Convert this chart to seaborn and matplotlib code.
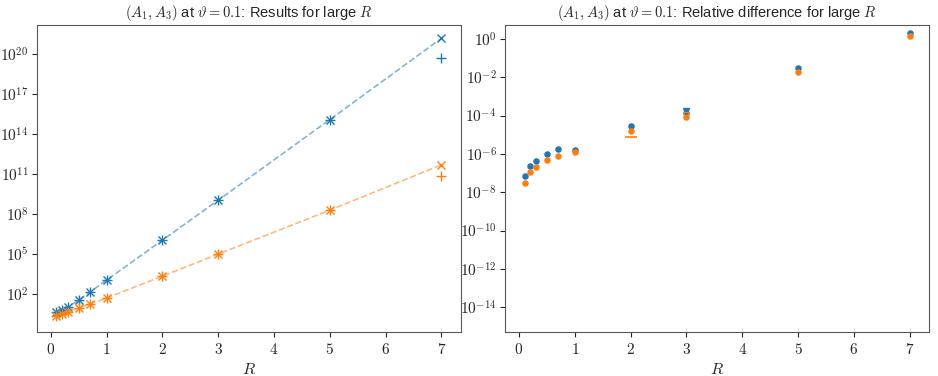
import numpy as np
import pandas as pd
import matplotlib
matplotlib.use("Agg")
import matplotlib.pyplot as plt
from matplotlib.ticker import FuncFormatter
import seaborn as sns

# Data (log10 values)
R = [0.1, 0.2, 0.3, 0.5, 0.7, 1, 2, 3, 5, 7]
blue_x_log = [0.65, 0.8, 1.0, 1.55, 2.15, 3.05, 6.05, 9.05, 15.1, 21.2]
blue_p_log = [0.65, 0.8, 1.0, 1.55, 2.15, 3.05, 6.05, 9.05, 15.1, 19.7]
orange_x_log = [0.35, 0.5, 0.65, 0.95, 1.25, 1.7, 3.35, 5.0, 8.3, 11.7]
orange_p_log = [0.35, 0.5, 0.65, 0.95, 1.25, 1.7, 3.35, 5.0, 8.3, 10.85]

rel_blue_log = [-7.18, -6.63, -6.36, -6.0, -5.75, -5.79, -4.56, -3.85, -1.51, 0.3]
rel_orange_log = [-7.51, -6.95, -6.68, -6.33, -6.12, -5.89, -4.78, -4.09, -1.72, 0.17]
# extra markers seen in the right panel
extra_v_R = [3, 3]
extra_v_log = [-3.77, -3.98]
extra_h_R = [2]
extra_h_log = [-5.13]

sns.set_style("ticks")
plt.rcParams["mathtext.fontset"] = "cm"
plt.rcParams["font.family"] = ["Liberation Sans", "DejaVu Sans"]

c0, c1 = sns.color_palette("tab10")[:2]

fig, (ax1, ax2) = plt.subplots(1, 2, figsize=(9.38, 3.76), dpi=100)
fig.subplots_adjust(left=0.0394, right=0.9905, bottom=0.117, top=0.9335, wspace=0.104)

left = pd.DataFrame({"R": R,
                     "bx": np.power(10.0, blue_x_log), "bp": np.power(10.0, blue_p_log),
                     "ox": np.power(10.0, orange_x_log), "op": np.power(10.0, orange_p_log)})

sns.lineplot(data=left, x="R", y="bx", ax=ax1, color=c0, alpha=0.55, ls="--", lw=1.2)
sns.lineplot(data=left, x="R", y="ox", ax=ax1, color=c1, alpha=0.55, ls="--", lw=1.2)
ax1.plot(left["R"], left["bx"], "x", color=c0, ms=6)
ax1.plot(left["R"], left["bp"], "+", color=c0, ms=7)
ax1.plot(left["R"], left["ox"], "x", color=c1, ms=6)
ax1.plot(left["R"], left["op"], "+", color=c1, ms=7)
ax1.set_yscale("log")
ax1.set_ylim(10 ** -0.85, 10 ** 22.2)
ax1.set_yticks([10.0 ** k for k in range(2, 21, 3)])
ax1.minorticks_off()
ax1.set_title(r"$(A_1, A_3)$ at $\vartheta = 0.1$: Results for large $R$", fontsize=10.5)

right = pd.DataFrame({"R": R,
                      "b": np.power(10.0, rel_blue_log), "o": np.power(10.0, rel_orange_log)})
ax2.plot(extra_v_R[:1], np.power(10.0, extra_v_log[:1]), "v", color=c0, ms=5)
ax2.plot(extra_v_R[1:], np.power(10.0, extra_v_log[1:]), "v", mfc="none", color=c1, ms=5, mew=0.8)
ax2.plot(extra_h_R, np.power(10.0, extra_h_log), "_", color=c1, ms=8, mew=1.2)
sns.scatterplot(data=right, x="R", y="b", ax=ax2, color=c0, s=22, linewidth=0)
sns.scatterplot(data=right, x="R", y="o", ax=ax2, color=c1, s=22, linewidth=0)
ax2.set_yscale("log")
ax2.set_ylim(10 ** -15.3, 10 ** 0.73)
ax2.set_yticks([10.0 ** k for k in range(-14, 1, 2)])
ax2.minorticks_off()
ax2.set_title(r"$(A_1, A_3)$ at $\vartheta = 0.1$: Relative difference for large $R$", fontsize=10.5)

log_fmt = FuncFormatter(lambda v, pos: r"$10^{%d}$" % int(round(np.log10(v))))
for ax in (ax1, ax2):
    ax.yaxis.set_major_formatter(log_fmt)
    ax.set_xlim(-0.25, 7.35)
    ax.set_xticks(range(8))
    ax.set_xticklabels([f"${i}$" for i in range(8)])
    ax.set_xlabel("$R$", fontsize=11.5)
    ax.set_ylabel("")
    ax.tick_params(labelsize=11)
    ax.tick_params(axis="y", pad=2.5)
    for s in ax.spines.values():
        s.set_color("0.35")

plt.savefig("out.png", dpi=100)
plt.close()
